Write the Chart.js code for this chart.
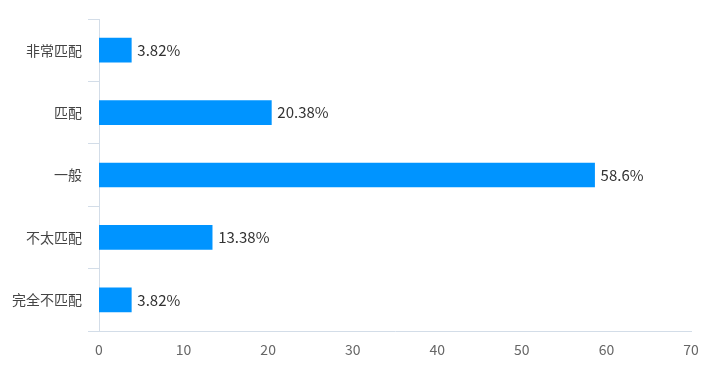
<!DOCTYPE html>
<html>
<head>
<meta charset="utf-8">
<script src="https://cdn.jsdelivr.net/npm/chart.js@4"></script>
<style>
  html, body { margin: 0; padding: 0; background: #fff; }
  #wrap { width: 726px; height: 368px; position: relative; }
</style>
</head>
<body>
<div id="wrap"><canvas id="chart" width="726" height="368"></canvas></div>
<script>
// ── Data ──
const categories = ["非常匹配", "匹配", "一般", "不太匹配", "完全不匹配"];
const values = [3.82, 20.38, 58.6, 13.38, 3.82];
const labels = ["3.82%", "20.38%", "58.6%", "13.38%", "3.82%"];

const BAR = "#0094ff", AXIS = "#d3dde8", FONT = "'Noto Sans CJK SC','Noto Sans',sans-serif";

// value labels at the end of each bar
const endLabels = {
  id: "endLabels",
  afterDatasetsDraw(chart) {
    const ctx = chart.ctx;
    const meta = chart.getDatasetMeta(0);
    ctx.save();
    ctx.fillStyle = "#333";
    ctx.font = "15px " + FONT;
    ctx.textBaseline = "middle";
    meta.data.forEach((bar, i) => {
      ctx.fillText(labels[i], bar.x + 6, bar.y);
    });
    ctx.restore();
  }
};

new Chart(document.getElementById("chart"), {
  type: "bar",
  data: {
    labels: categories,
    datasets: [{
      data: values,
      backgroundColor: BAR,
      barThickness: 24
    }]
  },
  options: {
    indexAxis: "y",
    responsive: false,
    animation: false,
    layout: { padding: { top: 19, right: 35, left: 0, bottom: 0 } },
    plugins: { legend: { display: false }, tooltip: { enabled: false } },
    scales: {
      x: {
        min: 0, max: 70,
        ticks: { stepSize: 10, color: "#666", font: { family: FONT, size: 14 }, padding: 10 },
        grid: { display: false, drawTicks: false },
        border: { color: AXIS, width: 1 },
        afterFit(s) { s.height = 37; }
      },
      y: {
        offset: true,
        ticks: { color: "#444", font: { family: FONT, size: 14 }, padding: 6 },
        grid: { offset: true, drawOnChartArea: false, color: AXIS, tickLength: 11 },
        border: { color: AXIS, width: 1 },
        afterFit(s) { s.width = 99; }
      }
    }
  },
  plugins: [endLabels]
});
</script>
</body>
</html>
